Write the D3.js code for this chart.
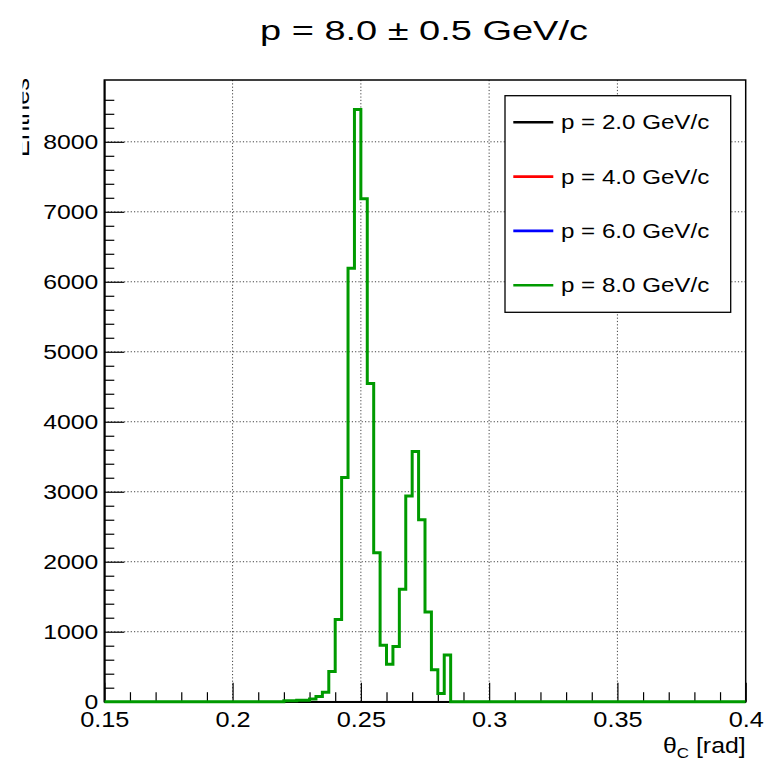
<!DOCTYPE html>
<html>
<head>
<meta charset="utf-8">
<script src="https://cdn.jsdelivr.net/npm/d3@7"></script>
<style>
  html, body { margin: 0; padding: 0; background: #ffffff; }
  svg { display: block; }
  text { font-family: "Liberation Sans", Arial, Helvetica, sans-serif; fill: #000; }
</style>
</head>
<body>
<svg id="chart" width="766" height="762"></svg>
<script>
// ---------------- data ----------------
const titleText = "p = 8.0 \u00B1 0.5 GeV/c";
const xAxisTitle = "\u03B8";
const xAxisSub = "C";
const xAxisUnit = " [rad]";
const yAxisTitle = "Entries";

const xMin = 0.15, xMax = 0.4, nBins = 100;
// bin contents (bin k covers [xMin + k*w, xMin + (k+1)*w), w = 0.0025)
const counts = [
  0, 0, 0, 0, 0, 0, 0, 0, 0, 0,
  0, 0, 0, 0, 0, 0, 0, 0, 0, 0,
  0, 0, 0, 0, 0, 0, 0, 0, 15, 15,
  20, 20, 38, 75, 135, 432, 1175, 3205, 6195, 8460,
  7185, 4548, 2128, 805, 535, 790, 1605, 2938, 3575, 2598,
  1280, 455, 118, 668, 0, 0, 0, 0, 0, 0,
  0, 0, 0, 0, 0, 0, 0, 0, 0, 0,
  0, 0, 0, 0, 0, 0, 0, 0, 0, 0,
  0, 0, 0, 0, 0, 0, 0, 0, 0, 0,
  0, 0, 0, 0, 0, 0, 0, 0, 0, 0
];

const xTicks = [0.15, 0.2, 0.25, 0.3, 0.35, 0.4];
const xTickLabels = ["0.15", "0.2", "0.25", "0.3", "0.35", "0.4"];
const yTicks = [0, 1000, 2000, 3000, 4000, 5000, 6000, 7000, 8000];
const yTickLabels = ["0", "1000", "2000", "3000", "4000", "5000", "6000", "7000", "8000"];
const xGrid = [0.2, 0.25, 0.3, 0.35];
const yGrid = [1000, 2000, 3000, 4000, 5000, 6000, 7000, 8000];

const legendLabels = ["p = 2.0 GeV/c", "p = 4.0 GeV/c", "p = 6.0 GeV/c", "p = 8.0 GeV/c"];
const legendColors = ["#000000", "#ff0000", "#0000ff", "#009a00"];
const histColor = "#009a00";

// ---------------- layout ----------------
const frame = { left: 104.3, right: 745.7, top: 80, bottom: 701.7 };
const yMax = 1.05 * d3.max(counts);

const svg = d3.select("#chart");
svg.append("rect").attr("width", 766).attr("height", 762).attr("fill", "#fff");

const x = d3.scaleLinear().domain([xMin, xMax]).range([frame.left, frame.right]);
const y = d3.scaleLinear().domain([0, yMax]).range([frame.bottom, frame.top]);

// minor tick positions
const xMinor = d3.range(0.16, 0.3999, 0.01).filter(v => Math.abs(v * 20 - Math.round(v * 20)) > 1e-6);
const yMinor = d3.range(200, 8700, 200).filter(v => v % 1000 !== 0);

// ---------------- grid ----------------
const grid = svg.append("g").attr("stroke", "#444").attr("stroke-width", 1)
  .attr("stroke-dasharray", "1.2,2.1");
grid.selectAll("line.gx").data(xGrid).join("line").attr("class", "gx")
  .attr("x1", d => x(d)).attr("x2", d => x(d))
  .attr("y1", frame.top).attr("y2", frame.bottom);
grid.selectAll("line.gy").data(yGrid).join("line").attr("class", "gy")
  .attr("y1", d => y(d)).attr("y2", d => y(d))
  .attr("x1", frame.left).attr("x2", frame.right);

// ---------------- frame ----------------
svg.append("rect")
  .attr("x", frame.left).attr("y", frame.top)
  .attr("width", frame.right - frame.left).attr("height", frame.bottom - frame.top)
  .attr("fill", "none").attr("stroke", "#000").attr("stroke-width", 1.5);

// ---------------- axes ----------------
const sxX = 1.15, sxY = 1.18;
const gx = svg.append("g").attr("transform", `translate(0,${frame.bottom})`)
  .call(d3.axisBottom(x).tickValues(xTicks).tickFormat((d, i) => xTickLabels[i])
    .tickSize(-19).tickSizeOuter(0).tickPadding(0));
gx.select(".domain").attr("stroke", "#000").attr("stroke-width", 1.5);
gx.selectAll(".tick line").attr("stroke", "#000").attr("stroke-width", 1.2);
gx.selectAll(".tick text")
  .attr("y", 25).attr("dy", 0)
  .attr("font-size", 22)
  .attr("font-family", "'Liberation Sans', Arial, Helvetica, sans-serif")
  .attr("fill", "#000")
  .attr("transform", `scale(${sxX},1)`);

const gxm = svg.append("g").attr("transform", `translate(0,${frame.bottom})`)
  .call(d3.axisBottom(x).tickValues(xMinor).tickFormat("").tickSize(-9.5).tickSizeOuter(0));
gxm.select(".domain").remove();
gxm.selectAll(".tick line").attr("stroke", "#000").attr("stroke-width", 1.2);

const gy = svg.append("g").attr("transform", `translate(${frame.left},0)`)
  .call(d3.axisLeft(y).tickValues(yTicks).tickFormat((d, i) => yTickLabels[i])
    .tickSize(-20).tickSizeOuter(0).tickPadding(6));
gy.select(".domain").attr("stroke", "#000").attr("stroke-width", 1.8);
gy.selectAll(".tick line").attr("stroke", "#000").attr("stroke-width", 1.2);
gy.selectAll(".tick text")
  .attr("x", -6 / sxY).attr("dy", "0.33em")
  .attr("font-size", 21)
  .attr("font-family", "'Liberation Sans', Arial, Helvetica, sans-serif")
  .attr("fill", "#000")
  .attr("transform", `scale(${sxY},1)`);

const gym = svg.append("g").attr("transform", `translate(${frame.left},0)`)
  .call(d3.axisLeft(y).tickValues(yMinor).tickFormat("").tickSize(-10).tickSizeOuter(0));
gym.select(".domain").remove();
gym.selectAll(".tick line").attr("stroke", "#000").attr("stroke-width", 1.2);

// ---------------- histogram ----------------
svg.append("clipPath").attr("id", "frameClip").append("rect")
  .attr("x", frame.left).attr("y", frame.top)
  .attr("width", frame.right - frame.left).attr("height", frame.bottom - frame.top + 4);

const binW = (xMax - xMin) / nBins;
const pts = counts.map((c, k) => ({ x0: xMin + k * binW, c: c }));
pts.push({ x0: xMax, c: counts[counts.length - 1] });

const line = d3.line().x(d => x(d.x0)).y(d => y(d.c)).curve(d3.curveStepAfter);
svg.append("path").datum(pts)
  .attr("clip-path", "url(#frameClip)")
  .attr("d", line)
  .attr("fill", "none").attr("stroke", histColor).attr("stroke-width", 3)
  .attr("stroke-linejoin", "miter");

// ---------------- legend ----------------
const lg = svg.append("g");
lg.append("rect").attr("x", 505).attr("y", 95.7).attr("width", 225.7).attr("height", 216.6)
  .attr("fill", "#fff").attr("stroke", "#000").attr("stroke-width", 1.3);
legendLabels.forEach((lab, i) => {
  const cy = 122.3 + i * 54.3;
  lg.append("line").attr("x1", 513.3).attr("x2", 553.3).attr("y1", cy).attr("y2", cy)
    .attr("stroke", legendColors[i]).attr("stroke-width", 2.6);
  lg.append("g").attr("transform", `translate(561,${cy + 7})`)
    .append("text").attr("font-size", 21).attr("transform", "scale(1.15,1)").text(lab);
});

// ---------------- titles ----------------
svg.append("text")
  .attr("x", 260).attr("y", 39.5)
  .attr("font-size", 27)
  .attr("textLength", 328).attr("lengthAdjust", "spacingAndGlyphs")
  .text(titleText);

const xt = svg.append("g").attr("transform", "translate(745.7,753) scale(1.13,1)")
  .append("text").attr("text-anchor", "end").attr("font-size", 22);
xt.append("tspan").text(xAxisTitle);
xt.append("tspan").attr("font-size", 15).attr("dy", 5).text(xAxisSub);
xt.append("tspan").attr("dy", -5).text(xAxisUnit);

// y-axis title (partly clipped as in original)
svg.append("clipPath").attr("id", "yTitleClip").append("rect")
  .attr("x", 22.5).attr("y", 0).attr("width", 100).attr("height", 762);
svg.append("g").attr("clip-path", "url(#yTitleClip)")
  .append("g").attr("transform", "translate(28.5,78) rotate(-90)")
  .append("text").attr("text-anchor", "end").attr("font-size", 22)
  .attr("textLength", 79).attr("lengthAdjust", "spacingAndGlyphs")
  .text(yAxisTitle);
</script>
</body>
</html>
